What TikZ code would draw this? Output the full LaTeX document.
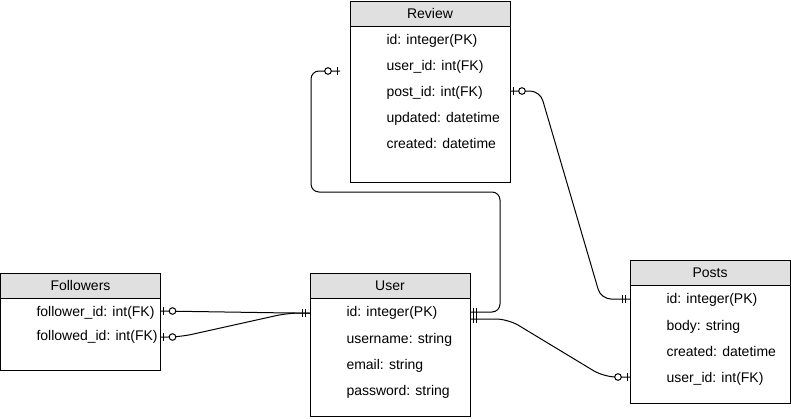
\documentclass[tikz,border=0pt]{standalone}
\usepackage{fontspec}
\setmainfont{Liberation Sans}
\usetikzlibrary{calc}
\definecolor{hdrgray}{RGB}{224,224,224}
\newcommand{\zeroone}[2]{%
  \draw ([xshift=#2*3pt]#1) ++(0,-4) -- ++(0,8);
  \draw[fill=white] ([xshift=#2*12pt]#1) circle (3.3pt);}
\newcommand{\mandone}[3]{%
  \draw ([xshift=#2pt]#1) ++(0,-4) -- ++(0,8);
  \draw ([xshift=#3pt]#1) ++(0,-4) -- ++(0,8);}
\begin{document}
\begin{tikzpicture}[x=1pt,y=-1pt,line width=1pt,
  tbl/.style={draw,anchor=north west,inner sep=0pt,outer sep=0pt,minimum width=160pt},
  hdr/.style={draw,fill=hdrgray,anchor=north west,inner sep=0pt,outer sep=0pt,
    minimum width=160pt,minimum height=25pt,font=\fontsize{14}{16}\selectfont},
  fld/.style={anchor=west,inner sep=0pt,text height=10pt,text depth=3pt,
    font=\fontsize{14}{16}\selectfont},
  conn/.style={line width=1pt,rounded corners=8pt}]
\useasboundingbox (0,0) rectangle (791,418);

% Review
\node[tbl,minimum height=181pt] (review) at (350,1) {};
\node[hdr] (reviewh) at (350,1) {Review};
\node[fld] (rid) at (386,41) {id: integer(PK)};
\node[fld] (ruser) at (386,67) {user\_id: int(FK)};
\node[fld] (rpost) at (386,93) {post\_id: int(FK)};
\node[fld] (rupd) at (386,119) {updated: datetime};
\node[fld] (rcre) at (386,145) {created: datetime};

% Followers
\node[tbl,minimum height=97pt] (followers) at (0.5,273) {};
\node[hdr] (followersh) at (0.5,273) {Followers};
\node[fld] (ffer) at (36,313) {follower\_id: int(FK)};
\node[fld] (fed) at (36,337) {followed\_id: int(FK)};

% User
\node[tbl,minimum height=143pt] (user) at (310,273) {};
\node[hdr] (userh) at (310,273) {User};
\node[fld] (uid) at (346,313) {id: integer(PK)};
\node[fld] (uname) at (346,340) {username: string};
\node[fld] (umail) at (346,366) {email: string};
\node[fld] (upass) at (346,392) {password: string};

% Posts
\node[tbl,minimum height=143pt] (posts) at (630,260) {};
\node[hdr] (postsh) at (630,260) {Posts};
\node[fld] (pid) at (666,300) {id: integer(PK)};
\node[fld] (pbody) at (666,327) {body: string};
\node[fld] (pcre) at (666,353) {created: datetime};
\node[fld] (puser) at (666,379) {user\_id: int(FK)};

% connection points
\coordinate (revL) at (340,71);
\coordinate (revR) at ($(review.north east)+(0,90)$);
\coordinate (folA) at ($(followers.north east)+(0,38)$);
\coordinate (folB) at ($(followers.north east)+(0,64)$);
\coordinate (usrL) at ($(user.north west)+(0,40)$);
\coordinate (usrR1) at ($(user.north east)+(0,39)$);
\coordinate (usrR2) at ($(user.north east)+(0,46)$);
\coordinate (pstA) at ($(posts.north west)+(0,39)$);
\coordinate (pstB) at ($(posts.north west)+(0,117)$);

% connectors
\draw[conn] (revL) -- (311,71) -- (311,192) -- (500,192) -- (500,312) -- (usrR1);
\draw[conn,rounded corners=10pt] (revR) -- (540,91) -- (601,299) -- (pstA);
\draw[conn] (folA) -- (290,313) -- (usrL);
\draw[conn,rounded corners=12pt] (folB) -- (180,337) -- (288,313) -- (usrL);
\draw[conn,rounded corners=12pt] (usrR2) -- (508,319) -- (604,377) -- (pstB);

% end markers
\zeroone{revL}{-1}
\zeroone{revR}{1}
\zeroone{folA}{1}
\zeroone{folB}{1}
\zeroone{pstB}{-1}
\mandone{usrL}{-8}{-5}
\mandone{usrR1}{3}{6}
\mandone{usrR2}{3}{6}
\mandone{pstA}{-8}{-5}
\end{tikzpicture}
\end{document}
